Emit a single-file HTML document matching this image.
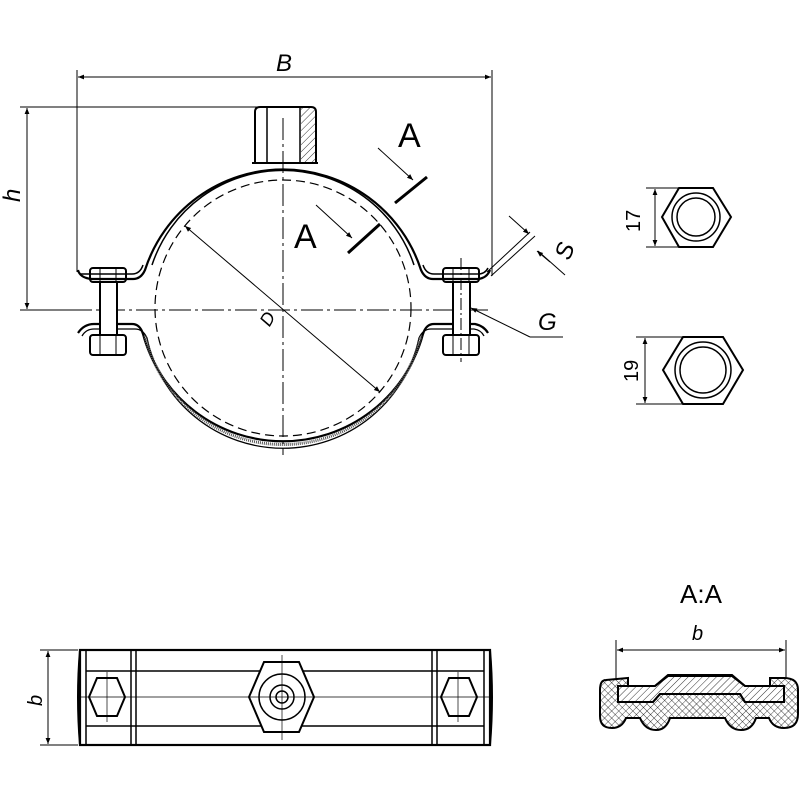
<!DOCTYPE html>
<html><head><meta charset="utf-8"><style>html,body{margin:0;padding:0;background:#fff}svg{display:block}</style></head>
<body>
<svg width="800" height="800" viewBox="0 0 800 800" xmlns="http://www.w3.org/2000/svg" font-family="Liberation Sans, sans-serif">
<defs>
<marker id="ar" viewBox="0 0 10 10" refX="10" refY="5" markerWidth="10" markerHeight="6" orient="auto-start-reverse" markerUnits="userSpaceOnUse"><path d="M0,1 L10,5 L0,9z" fill="#000"/></marker>
<pattern id="hatch" width="5" height="5" patternUnits="userSpaceOnUse" patternTransform="rotate(45)"><line x1="0" y1="0" x2="0" y2="5" stroke="#000" stroke-width="0.8"/></pattern>
<pattern id="cross" width="5" height="5" patternUnits="userSpaceOnUse" patternTransform="rotate(45)"><path d="M0,0 V5 M0,0 H5" stroke="#000" stroke-width="0.7"/></pattern>
</defs>
<g fill="none" stroke="#000">
<line x1="77" y1="70" x2="77" y2="272" stroke-width="1"/>
<line x1="492" y1="70" x2="492" y2="276" stroke-width="1"/>
<line x1="78" y1="77" x2="491" y2="77" stroke-width="1" marker-start="url(#ar)" marker-end="url(#ar)"/>
<line x1="20" y1="107" x2="258" y2="107" stroke-width="1"/>
<line x1="20" y1="310" x2="90" y2="310" stroke-width="1"/>
<line x1="27" y1="108" x2="27" y2="309" stroke-width="1" marker-start="url(#ar)" marker-end="url(#ar)"/>
<line x1="70" y1="310" x2="490" y2="310" stroke-width="1" stroke-dasharray="22,4,3,4"/>
<line x1="283" y1="118" x2="283" y2="455" stroke-width="1" stroke-dasharray="22,4,3,4"/>
<circle cx="283" cy="308" r="128" stroke-width="1.2" stroke-dasharray="9,5"/>
<path d="M255,163 V112 Q255,107 260,107 H311 Q316,107 316,112 V163" stroke-width="2"/>
<line x1="267" y1="108" x2="267" y2="162" stroke-width="1.5"/>
<line x1="300" y1="108" x2="300" y2="162" stroke-width="1.5"/>
<rect x="301" y="108" width="14" height="54" fill="url(#hatch)" stroke="none"/>
<line x1="252" y1="163" x2="318" y2="163" stroke-width="2"/>
<path d="M78,270 Q80,278 92,279 L133,279 Q141,279 145,270 A145 145 0 0 1 421,270 Q425,279 433,279 L478,279 Q487,278 490,270" stroke-width="2.2"/>
<path d="M80,274 L132,274 Q140,274 143,265 M152,265 A138 138 0 0 1 414,265 M423,265 Q426,274 434,274 L478,274 Q485,274 488,268" stroke-width="1.5"/>
<path d="M78,333 Q84,324 94,324 L132,324 Q140,324 143,334 A145 145 0 0 0 423,334 Q426,324 434,324 L475,324 Q484,326 488,333" stroke-width="2.2"/>
<path d="M82,336 Q86,329 94,329 L135,329 Q143,329 147,338 A139 139 0 0 0 419,338 Q423,329 431,329 L474,329 Q481,330 484,336" stroke-width="1.3"/>
<path d="M145,336 A142 142 0 0 0 421,336" stroke-width="3" stroke="#555" stroke-dasharray="1,1"/>
<rect x="90" y="268" width="36" height="14" rx="3" stroke-width="2"/>
<line x1="100" y1="268" x2="100" y2="282"/><line x1="116" y1="268" x2="116" y2="282"/>
<rect x="100" y="282" width="17" height="53" stroke-width="2" fill="#fff"/>
<rect x="90" y="335" width="36" height="20" rx="3" stroke-width="2" fill="#fff"/>
<line x1="100" y1="335" x2="100" y2="355"/><line x1="116" y1="335" x2="116" y2="355"/>
<rect x="443" y="268" width="36" height="14" rx="3" stroke-width="2"/>
<line x1="453" y1="268" x2="453" y2="282"/><line x1="469" y1="268" x2="469" y2="282"/>
<rect x="453" y="282" width="17" height="53" stroke-width="2" fill="#fff"/>
<rect x="443" y="335" width="36" height="20" rx="3" stroke-width="2" fill="#fff"/>
<line x1="453" y1="335" x2="453" y2="355"/><line x1="469" y1="335" x2="469" y2="355"/>
<line x1="461" y1="258" x2="461" y2="362" stroke-dasharray="12,3,2,3"/>
<line x1="185" y1="226" x2="380" y2="392" stroke-width="1" marker-start="url(#ar)" marker-end="url(#ar)"/>
<line x1="395" y1="203" x2="427" y2="177" stroke-width="3"/>
<line x1="348" y1="253" x2="380" y2="224" stroke-width="3"/>
<line x1="378" y1="148" x2="413" y2="180" stroke-width="1" marker-end="url(#ar)"/>
<line x1="316" y1="205" x2="352" y2="238" stroke-width="1" marker-end="url(#ar)"/>
<line x1="487" y1="272" x2="530" y2="232" stroke-width="1"/>
<line x1="491" y1="276" x2="535" y2="236" stroke-width="1"/>
<line x1="509" y1="216" x2="529" y2="234" stroke-width="1" marker-end="url(#ar)"/>
<line x1="565" y1="275" x2="538" y2="251" stroke-width="1"/>
<line x1="550" y1="262" x2="537" y2="251" stroke-width="1" marker-end="url(#ar)"/>
<path d="M530,337 H563" stroke-width="1"/>
<line x1="530" y1="337" x2="471" y2="308" stroke-width="1" marker-end="url(#ar)"/>
<polygon points="662,217 679,188 713,188 731,217 713,247 679,247" stroke-width="2"/>
<circle cx="696" cy="217" r="24" stroke-width="1.5"/>
<circle cx="696" cy="217" r="19" stroke-width="1.5"/>
<line x1="646" y1="188" x2="678" y2="188"/><line x1="646" y1="247" x2="678" y2="247"/>
<line x1="655" y1="189" x2="655" y2="246" marker-start="url(#ar)" marker-end="url(#ar)"/>
<polygon points="663,370 683,337 723,337 743,370 723,404 683,404" stroke-width="2"/>
<circle cx="703" cy="370" r="28" stroke-width="1.5"/>
<circle cx="703" cy="370" r="23" stroke-width="1.5"/>
<line x1="636" y1="337" x2="682" y2="337"/><line x1="636" y1="404" x2="682" y2="404"/>
<line x1="645" y1="338" x2="645" y2="403" marker-start="url(#ar)" marker-end="url(#ar)"/>
<line x1="40" y1="650" x2="78" y2="650"/><line x1="40" y1="745" x2="78" y2="745"/>
<line x1="48" y1="651" x2="48" y2="744" marker-start="url(#ar)" marker-end="url(#ar)"/>
<rect x="80" y="650" width="410" height="95" stroke-width="2.2"/>
<path d="M80,650 Q76,697 80,745 M490,650 Q494,697 490,745" stroke-width="2"/>
<line x1="86" y1="650" x2="86" y2="745" stroke-width="1.5"/>
<line x1="484" y1="650" x2="484" y2="745" stroke-width="1.5"/>
<line x1="131" y1="650" x2="131" y2="745" stroke-width="1.5"/><line x1="136" y1="650" x2="136" y2="745" stroke-width="1.5"/>
<line x1="432" y1="650" x2="432" y2="745" stroke-width="1.5"/><line x1="437" y1="650" x2="437" y2="745" stroke-width="1.5"/>
<line x1="86" y1="671" x2="484" y2="671" stroke-width="1.5"/>
<line x1="86" y1="726" x2="484" y2="726" stroke-width="1.5"/>
<polygon points="89,697 97,678 117,678 125,697 117,716 97,716" stroke-width="2" fill="#fff"/>
<polygon points="441,697 449,678 469,678 477,697 469,716 449,716" stroke-width="2" fill="#fff"/>
<polygon points="249,697 264,662 299,662 314,697 299,732 264,732" stroke-width="2" fill="#fff"/>
<circle cx="282" cy="697" r="23" stroke-width="1.5"/>
<circle cx="282" cy="697" r="12" stroke-width="1.5"/>
<circle cx="282" cy="697" r="6" stroke-width="1.5"/>
<line x1="80" y1="697" x2="490" y2="697" stroke-width="0.7"/>
<line x1="282" y1="655" x2="282" y2="740" stroke-width="0.7"/>
<line x1="107" y1="672" x2="107" y2="722" stroke-width="0.7"/>
<line x1="458" y1="672" x2="458" y2="722" stroke-width="0.7"/>
<line x1="616" y1="640" x2="616" y2="680"/><line x1="786" y1="640" x2="786" y2="678"/>
<line x1="617" y1="650" x2="785" y2="650" marker-start="url(#ar)" marker-end="url(#ar)"/>
<path d="M606,680 Q600,680 600,690 V716 Q600,728 612,728 Q622,728 626,718 L640,718 Q645,730 656,730 Q666,730 670,718 L725,718 Q730,730 741,730 Q752,730 756,718 L769,718 Q773,728 784,728 Q798,728 798,714 V690 Q798,678 784,678 L770,678 L770,686 L745,686 L732,675 L668,675 L655,686 L628,686 L628,678 Z" fill="url(#cross)" stroke-width="2"/>
<path d="M618,686 L655,686 L668,676 L732,676 L745,686 L784,686 L784,702 L745,702 L740,694 L660,694 L653,702 L618,702 Z" fill="#fff" stroke-width="2"/>
<path d="M618,686 L655,686 L668,676 L732,676 L745,686 L784,686 L784,702 L745,702 L740,694 L660,694 L653,702 L618,702 Z" fill="url(#hatch)" stroke-width="2"/>
</g>
<g font-size="24" fill="#000" stroke="none" font-style="italic">
<text x="276" y="71">B</text>
<text x="20" y="218" transform="rotate(-90 12 210)">h</text>
<text x="538" y="330">G</text>
<text x="556" y="258" transform="rotate(-70 565 250)">S</text>
<text x="264" y="326" font-size="18" transform="rotate(-60 268 322)">D</text>
<text x="0" y="0" transform="translate(640,232) rotate(-90)" font-size="20" font-style="normal">17</text>
<text x="0" y="0" transform="translate(638,382) rotate(-90)" font-size="20" font-style="normal">19</text>
<text x="0" y="0" transform="translate(42,706) rotate(-90)" font-size="20">b</text>
<text x="692" y="640" font-size="20">b</text>
</g>
<g font-size="34" fill="#000" font-family="Liberation Sans Narrow, Liberation Sans, sans-serif">
<text x="398" y="147">A</text>
<text x="294" y="248">A</text>
<text x="680" y="603" font-size="26">A:A</text>
</g>
</svg>
</body></html>
